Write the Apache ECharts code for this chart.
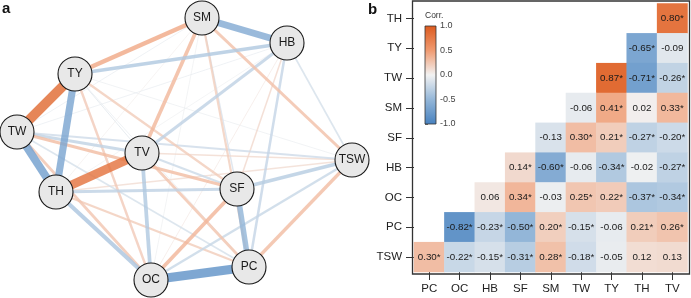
<!DOCTYPE html>
<html>
<head>
<meta charset="utf-8">
<script src="https://cdn.jsdelivr.net/npm/echarts@6/dist/echarts.min.js"></script>
<style>
html, body { margin: 0; padding: 0; background: #fff; }
#chart { width: 691px; height: 298px; }
</style>
</head>
<body>
<div id="chart"></div>
<script>
// heatmap rows (top to bottom) and columns (left to right)
const rowVars = ['TH', 'TY', 'TW', 'SM', 'SF', 'HB', 'OC', 'PC', 'TSW']
const colVars = ['PC', 'OC', 'HB', 'SF', 'SM', 'TW', 'TY', 'TH', 'TV']

const corr = [
  [null, null, null, null, null, null, null, null, 0.80],
  [null, null, null, null, null, null, null, -0.65, -0.09],
  [null, null, null, null, null, null, 0.87, -0.71, -0.26],
  [null, null, null, null, null, -0.06, 0.41, 0.02, 0.33],
  [null, null, null, null, -0.13, 0.30, 0.21, -0.27, -0.20],
  [null, null, null, 0.14, -0.60, -0.06, -0.34, -0.02, -0.27],
  [null, null, 0.06, 0.34, -0.03, 0.25, 0.22, -0.37, -0.34],
  [null, -0.82, -0.23, -0.50, 0.20, -0.15, -0.06, 0.21, 0.26],
  [0.30, -0.22, -0.15, -0.31, 0.28, -0.18, -0.05, 0.12, 0.13]
]

// 1 = significant (*)
const sig = [
  [0, 0, 0, 0, 0, 0, 0, 0, 1],
  [0, 0, 0, 0, 0, 0, 0, 1, 0],
  [0, 0, 0, 0, 0, 0, 1, 1, 1],
  [0, 0, 0, 0, 0, 0, 1, 0, 1],
  [0, 0, 0, 0, 0, 1, 1, 1, 1],
  [0, 0, 0, 1, 1, 0, 1, 0, 1],
  [0, 0, 0, 1, 0, 1, 1, 1, 1],
  [0, 1, 1, 1, 1, 1, 0, 1, 1],
  [1, 1, 1, 1, 1, 1, 0, 0, 0]
]

// network layout (panel a), in layout units
const nodeNames = ['SM', 'HB', 'TY', 'TW', 'TV', 'TH', 'SF', 'TSW', 'OC', 'PC']
const nodeX = [202, 287, 75, 17, 142, 56, 237, 352, 151, 249]
const nodeY = [18, 43, 74, 132, 153, 192, 189, 160, 280, 267]

const palette = ['#4781bf', '#93b6d8', '#f2f2f2', '#f09a70', '#dc5a1e']

const hexToRgb = (h) => [1, 3, 5].map((i) => parseInt(h.slice(i, i + 2), 16))

const corrColor = (v) => {
  const t = ((v + 1) / 2) * (palette.length - 1)
  const i = Math.min(Math.floor(t), palette.length - 2)
  const f = t - i
  const a = hexToRgb(palette[i])
  const b = hexToRgb(palette[i + 1])
  return 'rgb(' + a.map((c, k) => Math.round(c + (b[k] - c) * f)).join(',') + ')'
}

const heatData = []
const links = []
corr.forEach((row, r) => {
  row.forEach((v, c) => {
    if (v === null) return
    heatData.push([c, r, v, sig[r][c]])
    links.push({ source: rowVars[r], target: colVars[c], r: v })
  })
})
// weak edges first so strong ones sit on top
links.sort((a, b) => Math.abs(a.r) - Math.abs(b.r))

const graphLinks = links.map((l) => ({
  source: l.source,
  target: l.target,
  lineStyle: {
    width: Math.max(0.8, Math.abs(l.r) * 11),
    color: corrColor(l.r),
    opacity: 0.82,
    curveness: 0
  }
}))

const graphNodes = nodeNames.map((n, i) => ({ name: n, value: [nodeX[i], nodeY[i]] }))

const chart = echarts.init(document.getElementById('chart'), null, { renderer: 'canvas' })

const font = "'Liberation Sans', Arial, sans-serif"

const option = {
  animation: false,
  textStyle: { fontFamily: font },
  grid: [
    { left: 0, top: 0, width: 370, height: 298, show: false },
    { left: 414, top: 3.5, width: 273.5, height: 268.5, show: false },
    { left: 425, top: 26, width: 11, height: 98, show: false }
  ],
  xAxis: [
    { gridIndex: 0, type: 'value', min: 0, max: 370, show: false },
    {
      gridIndex: 1,
      type: 'category',
      data: colVars,
      position: 'bottom',
      axisLine: { show: false },
      axisTick: { show: true, alignWithLabel: true, length: 8, lineStyle: { color: '#333', width: 1 } },
      axisLabel: { color: '#222', fontSize: 11.5, margin: 11, interval: 0 },
      splitLine: { show: false }
    },
    { gridIndex: 2, type: 'value', min: 0, max: 1, show: false }
  ],
  yAxis: [
    { gridIndex: 0, type: 'value', min: 0, max: 298, inverse: true, show: false },
    {
      gridIndex: 1,
      type: 'category',
      data: rowVars,
      inverse: true,
      axisLine: { show: false },
      axisTick: { show: true, alignWithLabel: true, length: 8, lineStyle: { color: '#333', width: 1 } },
      axisLabel: { color: '#222', fontSize: 11.5, margin: 12, interval: 0 },
      splitLine: { show: false }
    },
    {
      gridIndex: 2,
      type: 'value',
      min: -1,
      max: 1,
      interval: 0.5,
      position: 'right',
      axisLine: { show: false },
      axisTick: { show: true, length: 3, lineStyle: { color: '#555', width: 0.8 } },
      axisLabel: {
        color: '#444',
        fontSize: 9,
        margin: 4,
        formatter: (v) => v.toFixed(1)
      },
      splitLine: { show: false }
    }
  ],
  visualMap: {
    show: false,
    type: 'continuous',
    min: -1,
    max: 1,
    dimension: 2,
    seriesIndex: 1,
    inRange: { color: palette }
  },
  graphic: [
    {
      type: 'text',
      left: 2,
      top: 1,
      style: { text: 'a', font: 'bold 15px ' + font, fill: '#111' }
    },
    {
      type: 'text',
      left: 368,
      top: 2,
      style: { text: 'b', font: 'bold 15px ' + font, fill: '#111' }
    },
    {
      type: 'rect',
      shape: { x: 412.5, y: 1, width: 277, height: 273 },
      style: { fill: 'none', stroke: '#333', lineWidth: 1.3 },
      z: 10
    },
    {
      type: 'text',
      left: 425,
      top: 11,
      style: { text: 'Corr.', font: '8.5px ' + font, fill: '#333' },
      z: 10
    },
    {
      type: 'rect',
      shape: { x: 425, y: 26, width: 11, height: 98 },
      style: {
        fill: new echarts.graphic.LinearGradient(
          0, 0, 0, 1,
          palette.slice().reverse().map((c, i) => ({ offset: i / (palette.length - 1), color: c }))
        ),
        stroke: '#333',
        lineWidth: 0.8
      },
      z: 10
    }
  ],
  series: [
    {
      type: 'graph',
      coordinateSystem: 'cartesian2d',
      xAxisIndex: 0,
      yAxisIndex: 0,
      symbol: 'circle',
      symbolSize: 34,
      data: graphNodes,
      links: graphLinks,
      itemStyle: { color: '#e8e8e8', borderColor: '#1a1a1a', borderWidth: 1.1 },
      label: { show: true, position: 'inside', color: '#1a1a1a', fontSize: 12, fontFamily: font },
      emphasis: { disabled: true },
      z: 2
    },
    {
      type: 'heatmap',
      xAxisIndex: 1,
      yAxisIndex: 1,
      data: heatData,
      label: {
        show: true,
        color: '#1a1a1a',
        fontSize: 9.8,
        fontFamily: font,
        formatter: (p) => p.value[2].toFixed(2) + (p.value[3] ? '*' : '')
      },
      itemStyle: { borderWidth: 0 },
      emphasis: { disabled: true }
    }
  ]
}

chart.setOption(option)
window.addEventListener('resize', () => chart.resize())
</script>
</body>
</html>
